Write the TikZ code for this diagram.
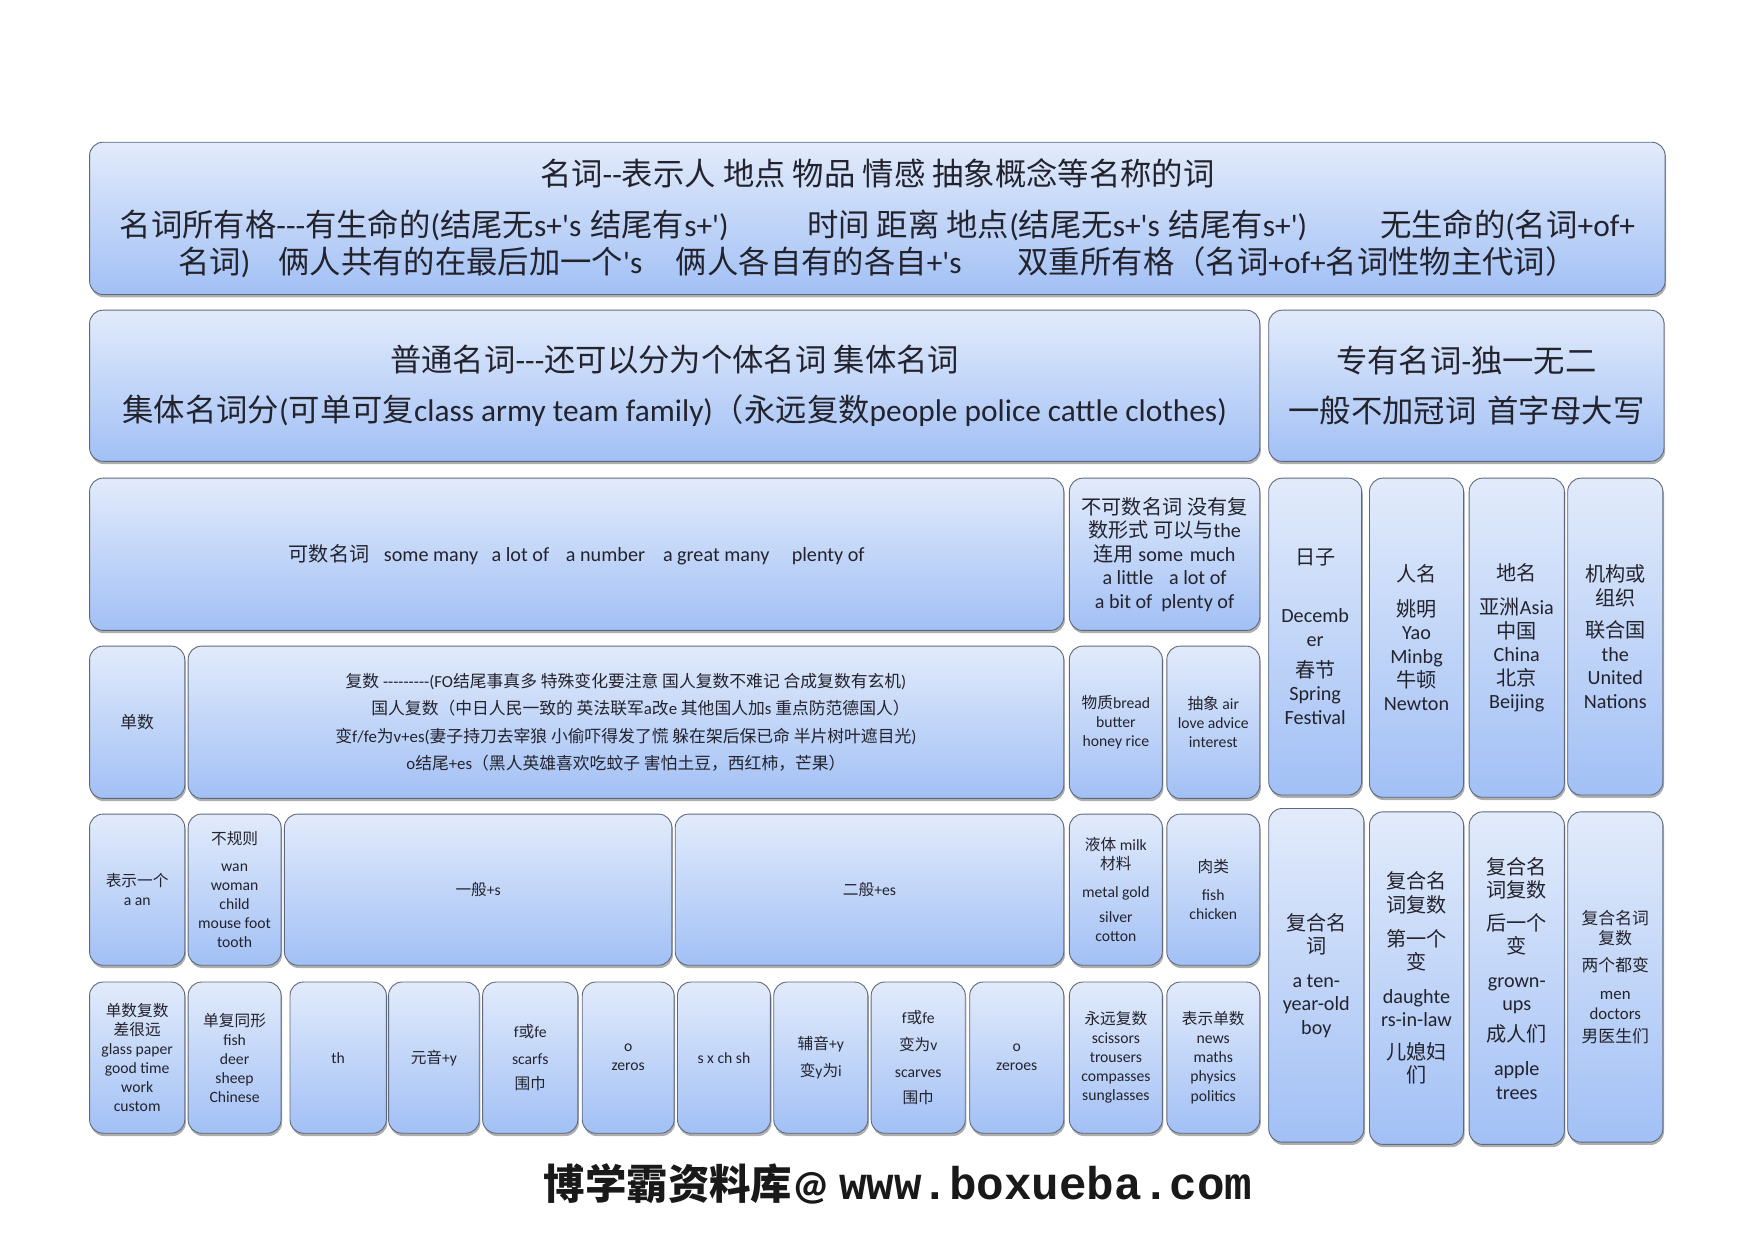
\documentclass[tikz,border=0pt]{standalone}
\usepackage{fontspec}
\setmainfont{Carlito}[Ligatures=TeXOff]
\newfontfamily\cjkfont{Noto Sans CJK SC}
\newfontfamily\webfont{Liberation Mono}
\usetikzlibrary{shadows}

% Han characters and full-width signs go to the CJK font
\XeTeXinterchartokenstate=1
\newXeTeXintercharclass\cjkclass
\makeatletter
\count@="3000
\loop\ifnum\count@<"A000
  \XeTeXcharclass\count@=\cjkclass
  \advance\count@\@ne
\repeat
\count@="FF00
\loop\ifnum\count@<"FFF0
  \XeTeXcharclass\count@=\cjkclass
  \advance\count@\@ne
\repeat
\makeatother
\XeTeXinterchartoks 0 \cjkclass={\begingroup\cjkfont}
\XeTeXinterchartoks 4095 \cjkclass={\begingroup\cjkfont}
\XeTeXinterchartoks \cjkclass 0={\endgroup}
\XeTeXinterchartoks \cjkclass 4095={\endgroup}

\definecolor{boxtop}{RGB}{226,235,251}
\definecolor{boxbot}{RGB}{162,192,245}
\definecolor{boxline}{RGB}{95,105,125}
\definecolor{ink}{RGB}{35,35,45}

\tikzset{
  cell/.style 2 args={draw=boxline, line width=0.8pt, rounded corners=12pt,
    top color=boxtop, bottom color=boxbot,
    drop shadow={shadow xshift=1pt, shadow yshift=-2.5pt, opacity=0.45, fill=black!70},
    minimum width=#1, minimum height=#2, inner sep=1pt, align=center, text=ink},
  huge/.style={font=\fontsize{28}{33}\selectfont},
  mid/.style={font=\fontsize{18}{21}\selectfont},
  plain/.style={font=\fontsize{15}{24.5}\selectfont},
  tiny/.style={font=\fontsize{14}{17}\selectfont}
}

\begin{document}
\begin{tikzpicture}[x=1pt, y=-1pt]
  \fill[white] (0,0) rectangle (1565.5,1107.4);
  \useasboundingbox (0,0) rectangle (1565.5,1107.4);

  % heading rows
  \node[cell={1407}{136}, huge] (gist) at (783.5,195) {名词--表示人 地点 物品 情感 抽象概念等名称的词\\[12pt]
    名词所有格---有生命的(结尾无s+'s\hspace{8pt}结尾有s+')\hspace{70pt}时间 距离 地点(结尾无s+'s\hspace{8pt}结尾有s+')\hspace{65pt}无生命的(名词+of+\\
    名词)\hspace{25pt}俩人共有的在最后加一个's\hspace{30pt}俩人各自有的各自+'s\hspace{50pt}双重所有格（名词+of+名词性物主代词）};
  \node[cell={1045}{135}, huge] (common) at (602.5,344.5) {普通名词---还可以分为个体名词 集体名词\\[12pt]
    集体名词分(可单可复class army team family)（永远复数people police cattle clothes)};
  \node[cell={353}{135}, huge] (proper) at (1309.5,344.5) {专有名词-独一无二\\[12pt]一般不加冠词\hspace{10pt}首字母大写};

  % common nouns
  \node[cell={870}{136}, mid] (count) at (515,495) {可数名词\hspace{13pt}some many\hspace{12pt}a lot of\hspace{15pt}a number\hspace{16pt}a great many\hspace{20pt}plenty of};
  \node[cell={170}{136}, mid] (uncount) at (1040,495) {不可数名词 没有复\\数形式 可以与the\\连用 some\hspace{6pt}much\\a little\hspace{14pt}a lot of\\a bit of\hspace{8pt}plenty of};

  \node[cell={85}{136}, plain] (single) at (122.5,645) {单数};
  \node[cell={782}{136}, plain] (plural) at (559,645) {复数 ---------(FO结尾事真多 特殊变化要注意 国人复数不难记 合成复数有玄机)\\
    \hspace*{26pt}国人复数（中日人民一致的 英法联军a改e 其他国人加s 重点防范德国人）\\
    变f/fe为v+es(妻子持刀去宰狼 小偷吓得发了慌 躲在架后保已命 半片树叶遮目光)\\
    o结尾+es（黑人英雄喜欢吃蚊子 害怕土豆，西红柿，芒果）};
  \node[cell={83}{136}, tiny] (matter) at (996.5,645) {物质bread\\butter\\honey rice};
  \node[cell={83}{136}, tiny] (abstract) at (1083.5,645) {抽象 air\\love advice\\interest};

  \node[cell={85}{135}, tiny] (article) at (122.5,794.5) {表示一个\\a an};
  \node[cell={83}{135}, tiny] (irregular) at (209.5,794.5) {不规则\\[7pt]wan\\woman\\child\\mouse foot\\tooth};
  \node[cell={346}{135}, tiny] (addS) at (427,794.5) {一般+s};
  \node[cell={347}{135}, tiny] (addES) at (776.5,794.5) {二般+es};
  \node[cell={83}{135}, tiny] (liquid) at (996.5,794.5) {液体 milk\\材料\\[8pt]metal gold\\[5pt]silver\\cotton};
  \node[cell={83}{135}, tiny] (meat) at (1083.5,794.5) {肉类\\[8pt]fish\\chicken};

  \node[cell={85}{135}, tiny] (apart) at (122.5,944.5) {单数复数\\差很远\\glass paper\\good time\\work\\custom};
  \node[cell={83}{135}, tiny] (same) at (209.5,944.5) {单复同形\\fish\\deer\\sheep\\Chinese};
  \node[cell={86}{135}, tiny] (th) at (302,944.5) {th};
  \node[cell={81}{135}, tiny] (vowelY) at (387.5,944.5) {元音+y};
  \node[cell={85}{135}, tiny] (fS) at (473.5,944.5) {f或fe\\[7pt]scarfs\\[6pt]围巾};
  \node[cell={82}{135}, tiny] (oS) at (561,944.5) {o\\zeros};
  \node[cell={83}{135}, tiny] (sxch) at (646.5,944.5) {s x ch sh};
  \node[cell={84}{135}, tiny] (consY) at (733,944.5) {辅音+y\\[7pt]变y为i};
  \node[cell={84}{135}, tiny] (fV) at (820,944.5) {f或fe\\[7pt]变为v\\[7pt]scarves\\[6pt]围巾};
  \node[cell={84}{135}, tiny] (oES) at (908,944.5) {o\\zeroes};
  \node[cell={83}{135}, tiny] (always) at (996.5,944.5) {永远复数\\scissors\\trousers\\compasses\\sunglasses};
  \node[cell={83}{135}, tiny] (singular) at (1083.5,944.5) {表示单数\\news\\maths\\physics\\politics};

  % proper nouns
  \node[cell={83}{283}, mid] (day) at (1174.5,568.5) {日子\\[31pt]Decemb\\er\\[7pt]春节\\Spring\\Festival};
  \node[cell={84}{285}, mid] (person) at (1265,569.5) {人名\\[10pt]姚明\\Yao\\Minbg\\牛顿\\Newton};
  \node[cell={85}{285}, mid] (place) at (1354.5,569.5) {地名\\[10pt]亚洲Asia\\中国\\China\\北京\\Beijing};
  \node[cell={85}{283}, mid] (org) at (1442.5,568.5) {机构或\\组织\\[8pt]联合国\\the\\United\\Nations};

  \node[cell={85}{298}, mid] (compound) at (1175.5,871) {复合名\\词\\[9pt]a ten-\\year-old\\boy};
  \node[cell={84}{297}, mid] (firstPl) at (1265,873.5) {复合名\\词复数\\[9pt]第一个\\变\\[9pt]daughte\\rs-in-law\\[8pt]儿媳妇\\们};
  \node[cell={85}{297}, mid] (lastPl) at (1354.5,873.5) {复合名\\词复数\\[8pt]后一个\\变\\[9pt]grown-\\ups\\[7pt]成人们\\[9pt]apple\\trees};
  \node[cell={85}{295}, font=\fontsize{15}{18}\selectfont] (bothPl) at (1442.5,872.5) {复合名词\\复数\\[6pt]两个都变\\[7pt]men\\doctors\\[3pt]男医生们};

  \node[text=black!90, font=\fontsize{37}{40}\selectfont\bfseries] (mark) at (802,1057) {博学霸资料库@ {\webfont\fontsize{41}{44}\selectfont www.boxueba.com}};
\end{tikzpicture}
\end{document}
